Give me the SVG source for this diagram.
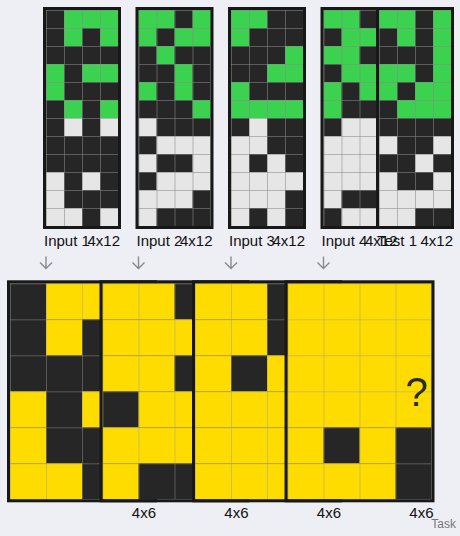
<svg xmlns="http://www.w3.org/2000/svg" width="460" height="536" viewBox="0 0 460 536">
<style>
.bg{fill:#262626}
.g{fill:#3ad24e}
.w{fill:#e6e6e6}
.y{fill:#ffdc00}
.bd{fill:none;stroke:#181818;stroke-width:3}
.t{font-family:"Liberation Sans",Arial,sans-serif;font-size:15px;fill:#111}
.task{font-family:"Liberation Sans",Arial,sans-serif;font-size:12px;fill:#777}
.q{font-family:"Liberation Sans",Arial,sans-serif;font-size:40px;fill:#2a2a2a}
.arr{fill:none;stroke:#8a8a8a;stroke-width:1.4}
</style>
<defs>
<pattern id="p18" width="18" height="18" patternUnits="userSpaceOnUse"><path d="M0 0.5H18M0.5 0V18" stroke="#888" stroke-opacity="0.55" stroke-width="1" fill="none"/></pattern>
<pattern id="p36" width="36" height="36" patternUnits="userSpaceOnUse"><path d="M0 0.5H36M0.5 0V36" stroke="#999" stroke-opacity="0.45" stroke-width="1" fill="none"/></pattern>
</defs>
<rect width="460" height="536" fill="#eeeef5"/>

<g id="input1" transform="translate(46,10)">
<rect class="bg" width="72" height="216"/>
<rect class="g" x="18" y="0" width="54" height="18"/>
<rect class="g" x="18" y="18" width="18" height="18"/><rect class="g" x="54" y="18" width="18" height="18"/>
<rect class="g" x="0" y="54" width="18" height="18"/><rect class="g" x="36" y="54" width="36" height="18"/>
<rect class="g" x="0" y="72" width="18" height="18"/>
<rect class="g" x="18" y="90" width="18" height="18"/><rect class="g" x="54" y="90" width="18" height="18"/>
<rect class="w" x="18" y="108" width="18" height="18"/><rect class="w" x="54" y="108" width="18" height="18"/>
<rect class="w" x="0" y="162" width="18" height="18"/><rect class="w" x="36" y="162" width="18" height="18"/>
<rect class="w" x="0" y="180" width="18" height="18"/>
<rect class="w" x="0" y="198" width="36" height="18"/><rect class="w" x="54" y="198" width="18" height="18"/>
<rect width="72" height="216" fill="url(#p18)"/>
<rect class="bd" x="-1.5" y="-1.5" width="75" height="219"/>
</g>

<g id="input2" transform="translate(138.5,10)">
<rect class="bg" width="72" height="216"/>
<rect class="g" x="0" y="0" width="36" height="18"/><rect class="g" x="54" y="0" width="18" height="18"/>
<rect class="g" x="0" y="18" width="18" height="18"/><rect class="g" x="36" y="18" width="36" height="18"/>
<rect class="g" x="18" y="36" width="18" height="18"/>
<rect class="g" x="36" y="54" width="18" height="18"/>
<rect class="g" x="0" y="72" width="18" height="18"/><rect class="g" x="36" y="72" width="18" height="18"/>
<rect class="g" x="54" y="90" width="18" height="18"/>
<rect class="w" x="0" y="108" width="18" height="18"/>
<rect class="w" x="18" y="126" width="54" height="18"/>
<rect class="w" x="0" y="144" width="18" height="18"/><rect class="w" x="54" y="144" width="18" height="18"/>
<rect class="w" x="18" y="162" width="54" height="18"/>
<rect class="w" x="0" y="180" width="54" height="18"/>
<rect class="w" x="0" y="198" width="18" height="18"/>
<rect width="72" height="216" fill="url(#p18)"/>
<rect class="bd" x="-1.5" y="-1.5" width="75" height="219"/>
</g>

<g id="input3" transform="translate(231,10)">
<rect class="bg" width="72" height="216"/>
<rect class="g" x="0" y="0" width="36" height="18"/>
<rect class="g" x="0" y="18" width="18" height="18"/>
<rect class="g" x="54" y="36" width="18" height="18"/>
<rect class="g" x="36" y="54" width="36" height="18"/>
<rect class="g" x="0" y="72" width="18" height="18"/>
<rect class="g" x="0" y="90" width="72" height="18"/>
<rect class="w" x="18" y="108" width="18" height="18"/>
<rect class="w" x="0" y="126" width="36" height="18"/>
<rect class="w" x="0" y="144" width="18" height="18"/><rect class="w" x="36" y="144" width="18" height="18"/>
<rect class="w" x="0" y="162" width="72" height="18"/>
<rect class="w" x="0" y="180" width="54" height="18"/>
<rect class="w" x="0" y="198" width="18" height="18"/><rect class="w" x="36" y="198" width="18" height="18"/>
<rect width="72" height="216" fill="url(#p18)"/>
<rect class="bd" x="-1.5" y="-1.5" width="75" height="219"/>
</g>

<g id="input4" transform="translate(323.5,10)">
<rect class="bg" width="72" height="216"/>
<rect class="g" x="0" y="0" width="36" height="18"/><rect class="g" x="54" y="0" width="18" height="18"/>
<rect class="g" x="18" y="18" width="54" height="18"/>
<rect class="g" x="0" y="36" width="36" height="18"/><rect class="g" x="54" y="36" width="18" height="18"/>
<rect class="g" x="18" y="54" width="54" height="18"/>
<rect class="g" x="0" y="72" width="18" height="18"/><rect class="g" x="36" y="72" width="18" height="18"/>
<rect class="g" x="0" y="90" width="18" height="18"/>
<rect class="w" x="18" y="108" width="36" height="18"/>
<rect class="w" x="0" y="126" width="54" height="18"/>
<rect class="w" x="0" y="144" width="54" height="18"/>
<rect class="w" x="0" y="162" width="54" height="18"/>
<rect class="w" x="0" y="180" width="18" height="18"/>
<rect class="w" x="18" y="198" width="36" height="18"/>
<rect width="72" height="216" fill="url(#p18)"/>
<rect class="bd" x="-1.5" y="-1.5" width="75" height="219"/>
</g>

<g id="test1" transform="translate(379,10)">
<rect class="bg" width="72" height="216"/>
<rect class="g" x="0" y="0" width="36" height="18"/><rect class="g" x="54" y="0" width="18" height="18"/>
<rect class="g" x="18" y="18" width="18" height="18"/><rect class="g" x="54" y="18" width="18" height="18"/>
<rect class="g" x="54" y="36" width="18" height="18"/>
<rect class="g" x="0" y="54" width="36" height="18"/><rect class="g" x="54" y="54" width="18" height="18"/>
<rect class="g" x="0" y="72" width="18" height="18"/><rect class="g" x="36" y="72" width="36" height="18"/>
<rect class="g" x="18" y="90" width="54" height="18"/>
<rect class="w" x="0" y="126" width="18" height="18"/><rect class="w" x="54" y="126" width="18" height="18"/>
<rect class="w" x="36" y="144" width="18" height="18"/>
<rect class="w" x="0" y="162" width="18" height="18"/><rect class="w" x="54" y="162" width="18" height="18"/>
<rect class="w" x="0" y="180" width="72" height="18"/>
<rect class="w" x="0" y="198" width="36" height="18"/>
<rect width="72" height="216" fill="url(#p18)"/>
<rect class="bd" x="-1.5" y="-1.5" width="75" height="219"/>
</g>

<g id="labels-top">
<text class="t" x="44" y="245.5">Input 1</text><text class="t" x="120" y="245.5" text-anchor="end">4x12</text>
<text class="t" x="136.5" y="245.5">Input 2</text><text class="t" x="212.5" y="245.5" text-anchor="end">4x12</text>
<text class="t" x="229" y="245.5">Input 3</text><text class="t" x="305" y="245.5" text-anchor="end">4x12</text>
<text class="t" x="321.5" y="245.5">Input 4</text><text class="t" x="397.5" y="245.5" text-anchor="end">4x12</text>
<text class="t" x="377" y="245.5">Test 1</text><text class="t" x="453" y="245.5" text-anchor="end">4x12</text>
</g>

<g id="connectors">
<path class="arr" d="M46 256.5V268.5M40 262.5L46 268.5L52 262.5"/>
<path class="arr" d="M138.5 256.5V268.5M132.5 262.5L138.5 268.5L144.5 262.5"/>
<path class="arr" d="M231 256.5V268.5M225 262.5L231 268.5L237 262.5"/>
<path class="arr" d="M323.5 256.5V268.5M317.5 262.5L323.5 268.5L329.5 262.5"/>
</g>

<g id="output1" transform="translate(10,283.3)">
<rect class="bg" width="144" height="216"/>
<rect class="y" x="36" y="0" width="108" height="36"/>
<rect class="y" x="36" y="36" width="36" height="36"/><rect class="y" x="108" y="36" width="36" height="36"/>
<rect class="y" x="0" y="108" width="36" height="36"/><rect class="y" x="72" y="108" width="72" height="36"/>
<rect class="y" x="0" y="144" width="36" height="36"/>
<rect class="y" x="0" y="180" width="72" height="36"/><rect class="y" x="108" y="180" width="36" height="36"/>
<rect width="144" height="216" fill="url(#p36)"/>
<rect class="bd" x="-1.5" y="-1.5" width="147" height="219"/>
</g>

<g id="output2" transform="translate(102.5,283.3)">
<rect class="bg" width="144" height="216"/>
<rect class="y" x="0" y="0" width="72" height="36"/><rect class="y" x="108" y="0" width="36" height="36"/>
<rect class="y" x="0" y="36" width="144" height="36"/>
<rect class="y" x="0" y="72" width="72" height="36"/><rect class="y" x="108" y="72" width="36" height="36"/>
<rect class="y" x="36" y="108" width="108" height="36"/>
<rect class="y" x="0" y="144" width="108" height="36"/>
<rect class="y" x="0" y="180" width="36" height="36"/><rect class="y" x="108" y="180" width="36" height="36"/>
<rect width="144" height="216" fill="url(#p36)"/>
<rect class="bd" x="-1.5" y="-1.5" width="147" height="219"/>
</g>

<g id="output3" transform="translate(195,283.3)">
<rect class="bg" width="144" height="216"/>
<rect class="y" x="0" y="0" width="72" height="36"/>
<rect class="y" x="0" y="36" width="72" height="36"/>
<rect class="y" x="0" y="72" width="36" height="36"/><rect class="y" x="72" y="72" width="72" height="36"/>
<rect class="y" x="0" y="108" width="144" height="36"/>
<rect class="y" x="0" y="144" width="108" height="36"/>
<rect class="y" x="0" y="180" width="144" height="36"/>
<rect width="144" height="216" fill="url(#p36)"/>
<rect class="bd" x="-1.5" y="-1.5" width="147" height="219"/>
</g>

<g id="output4" transform="translate(287.5,283.3)">
<rect class="bg" width="144" height="216"/>
<rect class="y" x="0" y="0" width="144" height="144"/>
<rect class="y" x="0" y="144" width="36" height="36"/><rect class="y" x="72" y="144" width="36" height="36"/>
<rect class="y" x="0" y="180" width="108" height="36"/>
<rect width="144" height="216" fill="url(#p36)"/>
<rect class="bd" x="-1.5" y="-1.5" width="147" height="219"/>
</g>

<g id="test-output">
<text class="q" x="416.5" y="406" text-anchor="middle">?</text>
</g>

<g id="labels-bottom">
<text class="t" x="156" y="518" text-anchor="end">4x6</text>
<text class="t" x="248.5" y="518" text-anchor="end">4x6</text>
<text class="t" x="341" y="518" text-anchor="end">4x6</text>
<text class="t" x="433.5" y="518" text-anchor="end">4x6</text>
<text class="task" x="456" y="528" text-anchor="end">Task</text>
</g>
</svg>
